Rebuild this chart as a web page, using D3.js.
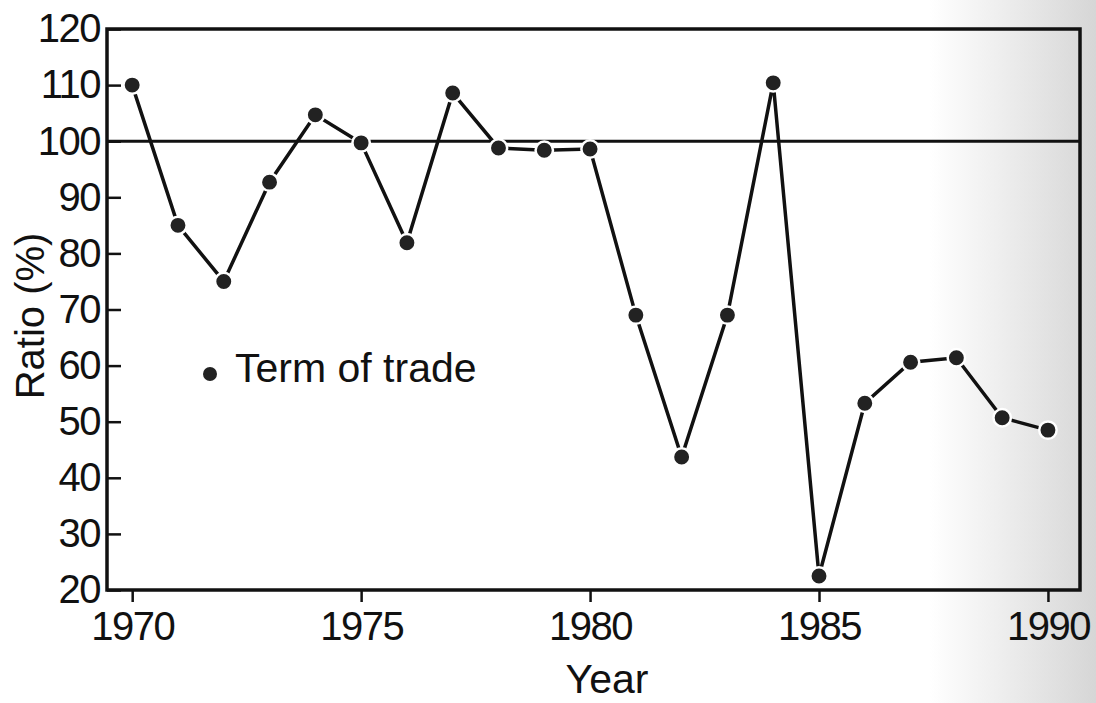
<!DOCTYPE html>
<html>
<head>
<meta charset="utf-8">
<script src="https://cdn.jsdelivr.net/npm/d3@7"></script>
<style>
  body { margin: 0; background: #fff; }
  .tick text { font-family: "Liberation Sans Narrow", "Liberation Sans", sans-serif; font-size: 40px; fill: #111; letter-spacing: -1.5px; }
  .tick line { stroke: #111; stroke-width: 2.5; }
  .lbl { font-family: "Liberation Sans", Arial, sans-serif; fill: #111; }
</style>
</head>
<body>
<script>
// data
var years = [1970, 1971, 1972, 1973, 1974, 1975, 1976, 1977, 1978, 1979, 1980,
             1981, 1982, 1983, 1984, 1985, 1986, 1987, 1988, 1989, 1990];
var ratio = [110, 85, 75, 92.7, 104.7, 99.7, 81.9, 108.6, 98.8, 98.4, 98.6,
             69, 43.7, 69, 110.4, 22.5, 53.3, 60.6, 61.4, 50.7, 48.5];
var yTicks = [20, 30, 40, 50, 60, 70, 80, 90, 100, 110, 120];
var xTicks = [1970, 1975, 1980, 1985, 1990];
var seriesName = "Term of trade";

var W = 1096, H = 703;
var svg = d3.select("body").append("svg").attr("width", W).attr("height", H);

// scanned-page shading on the right edge
var grad = svg.append("defs").append("linearGradient").attr("id", "shade");
grad.append("stop").attr("offset", "0%").attr("stop-color", "#fff");
grad.append("stop").attr("offset", "40%").attr("stop-color", "#efefef");
grad.append("stop").attr("offset", "100%").attr("stop-color", "#d6d6d6");
svg.append("rect").attr("x", 930).attr("y", 0).attr("width", W - 930).attr("height", H)
  .attr("fill", "url(#shade)");

var x = d3.scaleLinear().domain([1969.45, 1990.7]).range([107, 1080]);
var y = d3.scaleLinear().domain([20, 120]).range([590, 29]);

// axes
svg.append("g")
  .attr("transform", "translate(" + x.range()[0] + ",0)")
  .call(d3.axisLeft(y).tickValues(yTicks).tickSizeInner(-14).tickSizeOuter(0).tickPadding(7))
  .call(function(g) { g.select(".domain").remove(); });

svg.append("g")
  .attr("transform", "translate(0," + y.range()[0] + ")")
  .call(d3.axisBottom(x).tickValues(xTicks).tickFormat(d3.format("d")).tickSize(12).tickSizeOuter(0).tickPadding(10))
  .call(function(g) { g.select(".domain").remove(); });

// frame
svg.append("rect")
  .attr("x", x.range()[0]).attr("y", y.range()[1])
  .attr("width", x.range()[1] - x.range()[0])
  .attr("height", y.range()[0] - y.range()[1])
  .attr("fill", "none").attr("stroke", "#111").attr("stroke-width", 3.5);

// 100% reference line
svg.append("line")
  .attr("x1", x.range()[0]).attr("x2", x.range()[1])
  .attr("y1", y(100)).attr("y2", y(100))
  .attr("stroke", "#111").attr("stroke-width", 3);

var pts = years.map(function(yr, i) { return [yr, ratio[i]]; });

svg.append("path")
  .datum(pts)
  .attr("fill", "none")
  .attr("stroke", "#111")
  .attr("stroke-width", 3.5)
  .attr("d", d3.line().x(function(d) { return x(d[0]); }).y(function(d) { return y(d[1]); }));

// dots with a white ring, like the gaps around the printed markers
svg.selectAll("circle.pt")
  .data(pts)
.enter()
  .append("circle")
  .attr("class", "pt")
  .attr("cx", function(d) { return x(d[0]); })
  .attr("cy", function(d) { return y(d[1]); })
  .attr("r", 8.7)
  .attr("fill", "#222")
  .attr("stroke", "#fff")
  .attr("stroke-width", 2.5);

// legend
svg.append("circle").attr("cx", 210).attr("cy", 374).attr("r", 7).attr("fill", "#222");
svg.append("text").attr("class", "lbl").attr("x", 235).attr("y", 382)
  .attr("font-size", 41).text(seriesName);

// axis titles
svg.append("text").attr("class", "lbl").attr("x", 607).attr("y", 693)
  .attr("text-anchor", "middle").attr("font-size", 41).text("Year");
svg.append("text").attr("class", "lbl")
  .attr("transform", "translate(44,316) rotate(-90)")
  .attr("text-anchor", "middle").attr("font-size", 40).text("Ratio (%)");
</script>
</body>
</html>
